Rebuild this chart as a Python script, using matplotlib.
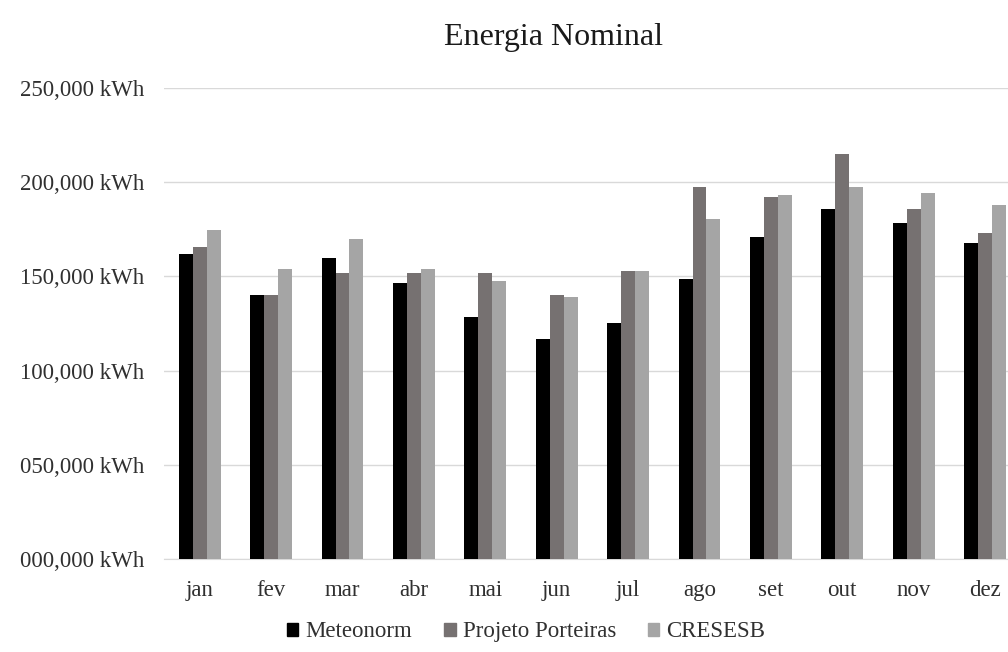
import matplotlib
matplotlib.use("Agg")
import matplotlib.pyplot as plt
import matplotlib.ticker as ticker
from matplotlib.patches import Patch
import numpy as np

months = ["jan", "fev", "mar", "abr", "mai", "jun",
          "jul", "ago", "set", "out", "nov", "dez"]
meteonorm = [161700, 140100, 159600, 146700, 128600, 116800,
             125400, 148800, 171100, 185900, 178500, 167900]
porteiras = [165800, 140100, 151800, 151800, 151800, 140100,
             152900, 197600, 192300, 214800, 185900, 173200]
cresesb = [174500, 154100, 170000, 154100, 147600, 139200,
           152900, 180600, 193400, 197600, 194400, 188100]

series_names = ["Meteonorm", "Projeto Porteiras", "CRESESB"]
colors = ["#000000", "#767171", "#a5a5a5"]

plt.rcParams['font.family'] = ['Liberation Serif', 'DejaVu Serif']
text_color = "#303030"

fig = plt.figure(figsize=(10.08, 6.52), dpi=100)
# axes run slightly past the right edge of the figure
ax = fig.add_axes([0.1627, 0.1426, 0.850, 0.7224])

x = np.arange(len(months))
w = 0.196
for i, vals in enumerate([meteonorm, porteiras, cresesb]):
    ax.bar(x + (i - 1) * w, vals, width=w, color=colors[i], zorder=3)

ax.set_xlim(-0.5, len(months) - 0.5)
ax.set_ylim(0, 250000)
ax.yaxis.set_major_locator(ticker.MultipleLocator(50000))
ax.yaxis.set_major_formatter(
    ticker.FuncFormatter(lambda v, p: f"{int(v // 1000):03d},000 kWh"))
ax.set_xticks(x)
ax.set_xticklabels(months)

ax.grid(axis='y', color="#d9d9d9", linewidth=1.0, zorder=0)
for s in ["top", "right", "left"]:
    ax.spines[s].set_visible(False)
ax.spines["bottom"].set_color("#d9d9d9")
ax.tick_params(axis='y', length=0, pad=14, labelsize=16.5, labelcolor=text_color)
ax.tick_params(axis='x', length=0, pad=15, labelsize=16.5, labelcolor=text_color)

fig.text(0.549, 0.943, "Energia Nominal", ha='center', va='center',
         fontsize=23, color="#1a1a1a")

handles = [Patch(color=c) for c in colors]
fig.legend(handles, series_names, loc='center', bbox_to_anchor=(0.522, 0.031),
           ncol=3, frameon=False, fontsize=16.5, handlelength=0.5,
           handleheight=0.5, handletextpad=0.3, columnspacing=1.4,
           labelcolor=text_color)

fig.savefig("out.png", dpi=100)
